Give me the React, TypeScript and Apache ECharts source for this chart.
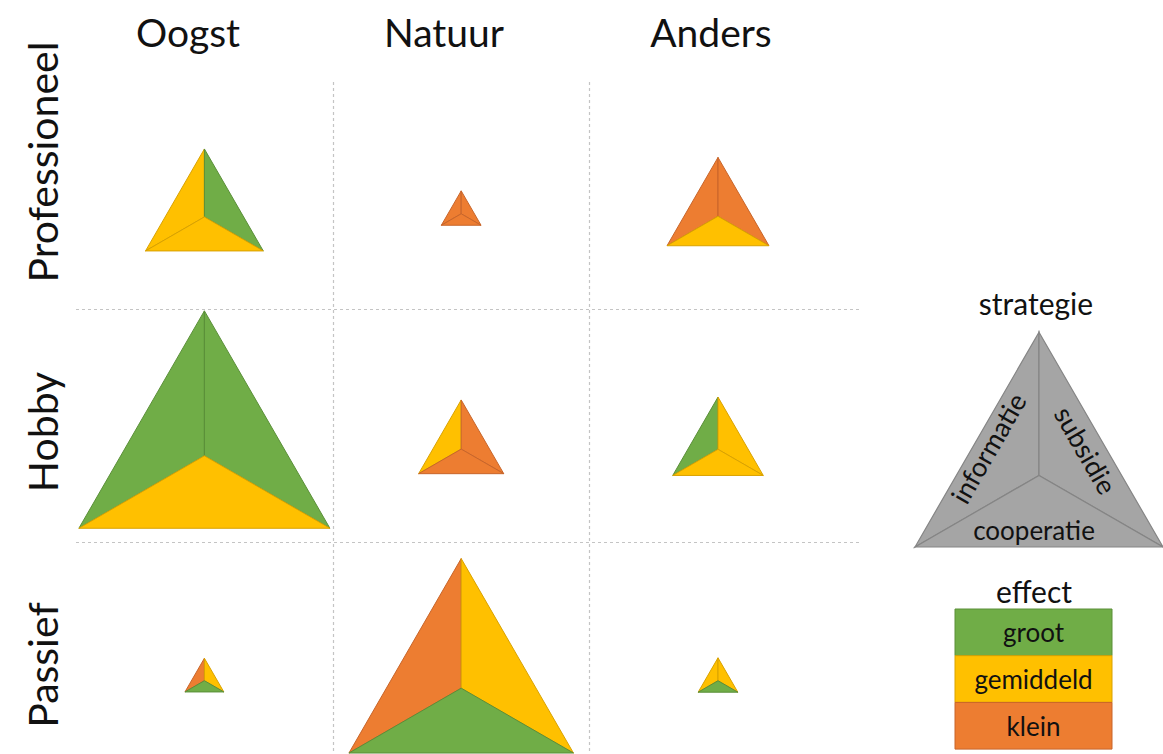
import React, { useEffect, useRef } from "react";
import * as echarts from "echarts";

// ---------- data ----------
const kolommen = ["Oogst", "Natuur", "Anders"];
const rijen = ["Professioneel", "Hobby", "Passief"];
const strategieen = ["informatie", "subsidie", "cooperatie"];
const effecten = ["groot", "gemiddeld", "klein"];

// relatieve omvang (oppervlakte van de driehoek) per rij, per kolom
const omvangProfessioneel = [22, 2.5, 16.5];
const omvangHobby = [100, 11.5, 13];
const omvangPassief = [2.4, 80, 2.5];

// effect per strategie [informatie, subsidie, cooperatie], per kolom
const effectProfessioneel = [
  ["gemiddeld", "groot", "gemiddeld"],
  ["klein", "klein", "klein"],
  ["klein", "klein", "gemiddeld"],
];
const effectHobby = [
  ["groot", "groot", "gemiddeld"],
  ["gemiddeld", "klein", "klein"],
  ["groot", "gemiddeld", "gemiddeld"],
];
const effectPassief = [
  ["klein", "gemiddeld", "groot"],
  ["klein", "gemiddeld", "groot"],
  ["gemiddeld", "gemiddeld", "groot"],
];

// ---------- styles ----------
const effectKleuren = ["#70AD47", "#FFC000", "#ED7D31"];
const effectRanden = ["#5A8F38", "#D9A200", "#C8652A"];
const FONT = "Lato";
const TEXT = "#111111";
const ZIJDE_MAX = 1.955; // side of the largest triangle, in x-axis units
const ANKER_DY = 19.7; // px shift of the anchor point below the row position
const ANKER_F = 0.62; // anchor point as a fraction of the height, from the apex

const omvang = [omvangProfessioneel, omvangHobby, omvangPassief];
const effect = [effectProfessioneel, effectHobby, effectPassief];
const maxOmvang = Math.max(...omvang.flat());

export default function App() {
  const ref = useRef<HTMLDivElement>(null);

  useEffect(() => {
    if (!ref.current) return;
    const chart = echarts.init(ref.current, null, { renderer: "svg" });

    const data: number[][] = [];
    rijen.forEach((_, r) => {
      kolommen.forEach((_, c) => {
        const e = effect[r][c].map((n) => effecten.indexOf(n));
        data.push([1 + 2 * c, 5 - 2 * r, omvang[r][c], e[0], e[1], e[2]]);
      });
    });

    const Y_MIN = 0.19;
    const dividers = [
      { coords: [[2, 5.946], [2, Y_MIN]] },
      { coords: [[4, 5.946], [4, Y_MIN]] },
      { coords: [[0, 4], [6.12, 4]] },
      { coords: [[0, 2], [6.12, 2]] },
    ];

    // legend triangle (strategie)
    const lcx = 1039;
    const lbase = 547;
    const lside = 248;
    const lh = (lside * Math.sqrt(3)) / 2;
    const lTop = [lcx, lbase - lh];
    const lBL = [lcx - lside / 2, lbase];
    const lBR = [lcx + lside / 2, lbase];
    const lC = [lcx, lbase - lh / 3];

    const graphic: any[] = [];
    const colTitleX = [188, 444, 711];
    kolommen.forEach((k, i) => {
      graphic.push({
        type: "text",
        x: colTitleX[i],
        y: 32,
        style: { text: k, fill: TEXT, fontSize: 39, fontFamily: FONT, align: "center", verticalAlign: "middle" },
      });
    });
    const rowTitleY = [162, 432, 665];
    rijen.forEach((k, i) => {
      graphic.push({
        type: "text",
        x: 42,
        y: rowTitleY[i],
        rotation: Math.PI / 2,
        style: { text: k, fill: TEXT, fontSize: 41, fontFamily: FONT, align: "center", verticalAlign: "middle" },
      });
    });

    graphic.push({
      type: "text",
      x: lcx - 3,
      y: 303,
      style: { text: "strategie", fill: TEXT, fontSize: 30, fontFamily: FONT, align: "center", verticalAlign: "middle" },
    });
    [
      [lTop, lC, lBL],
      [lTop, lBR, lC],
      [lBL, lC, lBR],
    ].forEach((pts) => {
      graphic.push({
        type: "polygon",
        shape: { points: pts },
        style: { fill: "#A5A5A5", stroke: "#858585", lineWidth: 1.2 },
      });
    });
    graphic.push({
      type: "text",
      x: 988,
      y: 448,
      rotation: Math.PI / 3,
      style: { text: strategieen[0], fill: TEXT, fontSize: 27, fontFamily: FONT, align: "center", verticalAlign: "middle" },
    });
    graphic.push({
      type: "text",
      x: 1086,
      y: 450,
      rotation: -Math.PI / 3,
      style: { text: strategieen[1], fill: TEXT, fontSize: 27, fontFamily: FONT, align: "center", verticalAlign: "middle" },
    });
    graphic.push({
      type: "text",
      x: 1034,
      y: 530,
      style: { text: strategieen[2], fill: TEXT, fontSize: 26, fontFamily: FONT, align: "center", verticalAlign: "middle" },
    });

    // effect legend
    graphic.push({
      type: "text",
      x: 1034,
      y: 591,
      style: { text: "effect", fill: TEXT, fontSize: 30, fontFamily: FONT, align: "center", verticalAlign: "middle" },
    });
    const boxX = 955;
    const boxW = 157;
    const boxTop = 609;
    const boxH = 46.7;
    effecten.forEach((e, i) => {
      graphic.push({
        type: "rect",
        shape: { x: boxX, y: boxTop + i * boxH, width: boxW, height: boxH },
        style: { fill: effectKleuren[i], stroke: effectRanden[i], lineWidth: 1 },
      });
      graphic.push({
        type: "text",
        x: boxX + boxW / 2,
        y: boxTop + i * boxH + boxH / 2,
        style: { text: e, fill: TEXT, fontSize: 26, fontFamily: FONT, align: "center", verticalAlign: "middle" },
      });
    });

    chart.setOption({
      animation: false,
      backgroundColor: "#ffffff",
      grid: { left: 76, top: 75.75, width: 770.4, height: 678.25 },
      xAxis: { type: "value", min: 0, max: 6, show: false },
      yAxis: { type: "value", min: Y_MIN, max: 6, show: false },
      graphic,
      series: [
        {
          type: "lines",
          coordinateSystem: "cartesian2d",
          silent: true,
          clip: false,
          z: 1,
          lineStyle: { color: "#c4c4c4", width: 1.2, type: [3, 3], opacity: 1 },
          data: dividers,
        },
        {
          type: "custom",
          z: 5,
          clip: false,
          data,
          encode: { x: 0, y: 1 },
          renderItem: (params: any, api: any) => {
            const x = api.value(0);
            const y = api.value(1);
            const v = api.value(2);
            const p = api.coord([x, y]);
            const side = api.size([ZIJDE_MAX * Math.sqrt(v / maxOmvang), 0])[0];
            const h = (side * Math.sqrt(3)) / 2;
            const cx = p[0];
            const apexY = p[1] + ANKER_DY - ANKER_F * h;
            const baseY = apexY + h;
            const top = [cx, apexY];
            const bl = [cx - side / 2, baseY];
            const br = [cx + side / 2, baseY];
            const c = [cx, baseY - h / 3];
            const faces = [
              [top, c, bl],
              [top, br, c],
              [bl, c, br],
            ];
            return {
              type: "group",
              children: faces.map((pts, i) => {
                const e = api.value(3 + i);
                return {
                  type: "polygon",
                  shape: { points: pts },
                  style: { fill: effectKleuren[e], stroke: effectRanden[e], lineWidth: 1 },
                };
              }),
            };
          },
        },
      ],
    });

    return () => chart.dispose();
  }, []);

  return (
    <div
      ref={ref}
      style={{ position: "absolute", left: 0, top: 0, width: 1163, height: 754, background: "#fff" }}
    />
  );
}
